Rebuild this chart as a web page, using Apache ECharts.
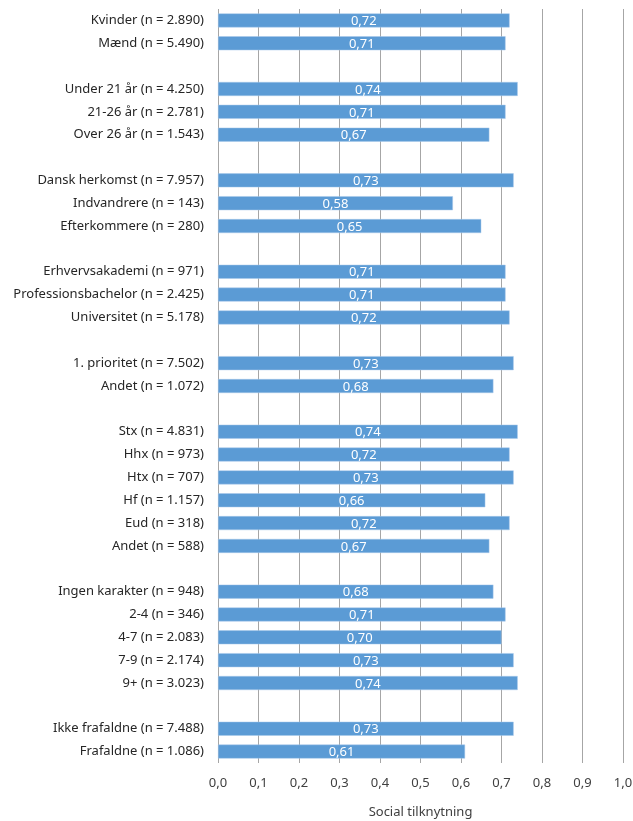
<!DOCTYPE html>
<html>
<head>
<meta charset="utf-8">
<script src="https://cdn.jsdelivr.net/npm/echarts@6/dist/echarts.min.js"></script>
<style>
  html, body { margin: 0; padding: 0; background: #fff; }
  #chart { width: 633px; height: 821px; }
</style>
</head>
<body>
<div id="chart"></div>
<script>
// blank entries (unique strings of spaces) make the gaps between groups
const categories = [
  'Kvinder (n = 2.890)', 'Mænd (n = 5.490)', ' ',
  'Under 21 år (n = 4.250)', '21-26 år (n = 2.781)', 'Over 26 år (n = 1.543)', '  ',
  'Dansk herkomst (n = 7.957)', 'Indvandrere (n = 143)', 'Efterkommere (n = 280)', '   ',
  'Erhvervsakademi (n = 971)', 'Professionsbachelor (n = 2.425)', 'Universitet (n = 5.178)', '    ',
  '1. prioritet (n = 7.502)', 'Andet (n = 1.072)', '     ',
  'Stx (n = 4.831)', 'Hhx (n = 973)', 'Htx (n = 707)', 'Hf (n = 1.157)', 'Eud (n = 318)', 'Andet (n = 588)', '      ',
  'Ingen karakter (n = 948)', '2-4 (n = 346)', '4-7 (n = 2.083)', '7-9 (n = 2.174)', '9+ (n = 3.023)', '       ',
  'Ikke frafaldne (n = 7.488)', 'Frafaldne (n = 1.086)'
];
const values = [
  0.72, 0.71, null,
  0.74, 0.71, 0.67, null,
  0.73, 0.58, 0.65, null,
  0.71, 0.71, 0.72, null,
  0.73, 0.68, null,
  0.74, 0.72, 0.73, 0.66, 0.72, 0.67, null,
  0.68, 0.71, 0.70, 0.73, 0.74, null,
  0.73, 0.61
];
const axisTitle = 'Social tilknytning';

const FONT = '"Noto Sans", sans-serif';
const comma = v => v.toFixed(2).replace('.', ',');

const chart = echarts.init(document.getElementById('chart'));
chart.setOption({
  animation: false,
  grid: { left: 218, right: 10, top: 9, bottom: 58, containLabel: false, outerBoundsMode: 'none' },
  xAxis: {
    type: 'value',
    min: 0, max: 1, interval: 0.1,
    name: axisTitle,
    nameLocation: 'middle',
    nameGap: 43,
    nameTextStyle: { color: '#404040', fontSize: 13, fontFamily: FONT },
    axisLine: { show: false },
    axisTick: { show: false },
    axisLabel: {
      color: '#404040', fontSize: 13, fontFamily: FONT, margin: 14,
      formatter: v => v.toFixed(1).replace('.', ',')
    },
    splitLine: { show: true, lineStyle: { color: '#a6a6a6', width: 1 } }
  },
  yAxis: {
    type: 'category',
    inverse: true,
    data: categories,
    axisLine: { show: false },
    axisTick: { show: false },
    axisLabel: { color: '#262626', fontSize: 13, fontFamily: FONT, margin: 14, interval: 0 }
  },
  series: [{
    type: 'bar',
    data: values,
    barWidth: 14,
    itemStyle: { color: '#5b9bd5', borderColor: '#a9c9ea', borderWidth: 0.5 },
    label: {
      show: true,
      position: 'inside',
      offset: [0, 1],
      color: '#ffffff',
      fontSize: 13,
      fontFamily: FONT,
      formatter: p => comma(p.value)
    }
  }]
});
</script>
</body>
</html>
